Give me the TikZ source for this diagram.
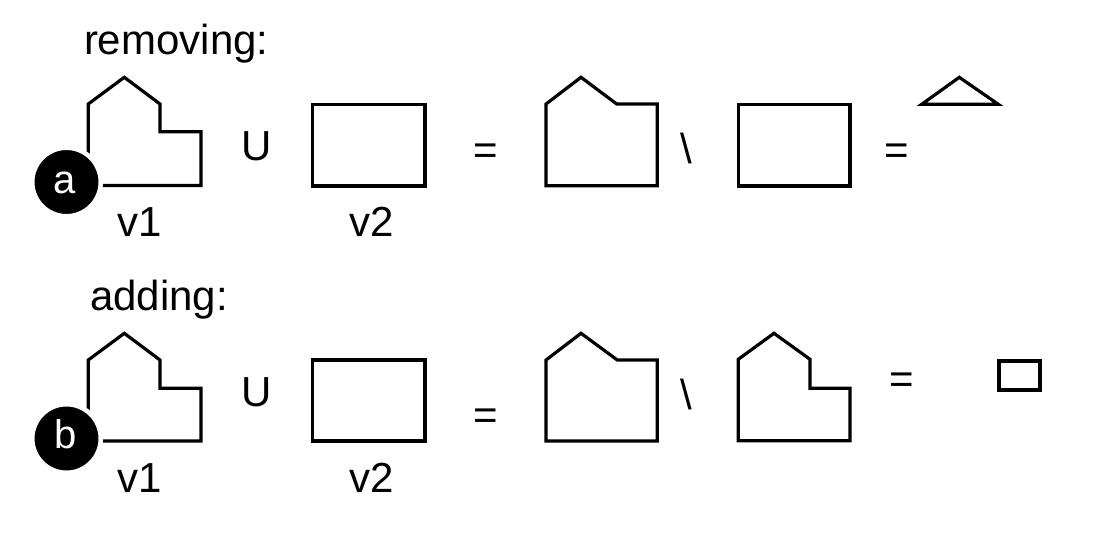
\documentclass[tikz,border=0pt]{standalone}
\usepackage{fontspec}
\setmainfont{Liberation Sans}
\begin{document}
\begin{tikzpicture}[x=1pt,y=-1pt,
  outline/.style={draw=black, line width=3.2pt, line join=miter},
  lbl/.style={font=\fontsize{42}{50}\selectfont, inner sep=0pt, outer sep=0pt, text=black},
  badge/.style={circle, fill=black, draw=white, line width=4.5pt, minimum size=68.5pt, inner sep=0pt},
  badgetext/.style={font=\fontsize{40}{48}\selectfont, inner sep=0pt, text=white}]
\useasboundingbox (0,0) rectangle (1111,535);

% ---------- row a: removing ----------
\node[lbl, anchor=base west] (tremove) at (84,55) {removing:};
\draw[outline] (88.3,104) -- (124.3,77.3) -- (160,104) -- (160,131.7) -- (201,131.7) -- (201,185.5) -- (88.3,185.5) -- cycle;
\node[badge] (ca) at (66.5,182) {};
\node[badgetext, anchor=base] (la) at (64.5,193) {a};
\node[lbl, anchor=base west] (ua) at (241.7,160) {U};
\draw[outline] (312.3,104.3) rectangle (425,186);
\node[lbl, anchor=base west] (v1a) at (117.7,236) {v1};
\node[lbl, anchor=base west] (v2a) at (349.7,236) {v2};
\node[lbl, anchor=base] (eqa1) at (485.5,164) {=};
\draw[outline] (546,104) -- (581,77.3) -- (616.7,104) -- (657.3,104) -- (657.3,185.8) -- (546,185.8) -- cycle;
\node[lbl, anchor=base] (bsa) at (686.4,163) {\textbackslash};
\draw[outline] (738.3,104.3) rectangle (850,186);
\node[lbl, anchor=base] (eqa2) at (896.7,164) {=};
\draw[outline] (921.7,104.3) -- (959.3,77.3) -- (998.3,104.3) -- cycle;

% ---------- row b: adding ----------
\node[lbl, anchor=base west] (tadd) at (90,310) {adding:};
\draw[outline] (88.3,360) -- (124.3,333.3) -- (160,360) -- (160,388.3) -- (201,388.3) -- (201,441) -- (88.3,441) -- cycle;
\node[badge] (cb) at (66.5,438.5) {};
\node[badgetext, anchor=base] (lb) at (65.4,448) {b};
\node[lbl, anchor=base west] (ub) at (241.7,406) {U};
\draw[outline] (312.3,360) rectangle (425,441);
\node[lbl, anchor=base west] (v1b) at (117.7,492) {v1};
\node[lbl, anchor=base west] (v2b) at (349.7,492) {v2};
\node[lbl, anchor=base] (eqb1) at (485.5,429) {=};
\draw[outline] (546,360) -- (581,333.3) -- (617.3,360) -- (657.3,360) -- (657.3,441) -- (546,441) -- cycle;
\node[lbl, anchor=base] (bsb) at (686.7,409) {\textbackslash};
\draw[outline] (738.3,359.3) -- (774,333.3) -- (810,359.3) -- (810,388.3) -- (850,388.3) -- (850,440.7) -- (738.3,440.7) -- cycle;
\node[lbl, anchor=base] (eqb2) at (901.7,393.7) {=};
\draw[outline] (999,361) rectangle (1040,390);
\end{tikzpicture}
\end{document}
